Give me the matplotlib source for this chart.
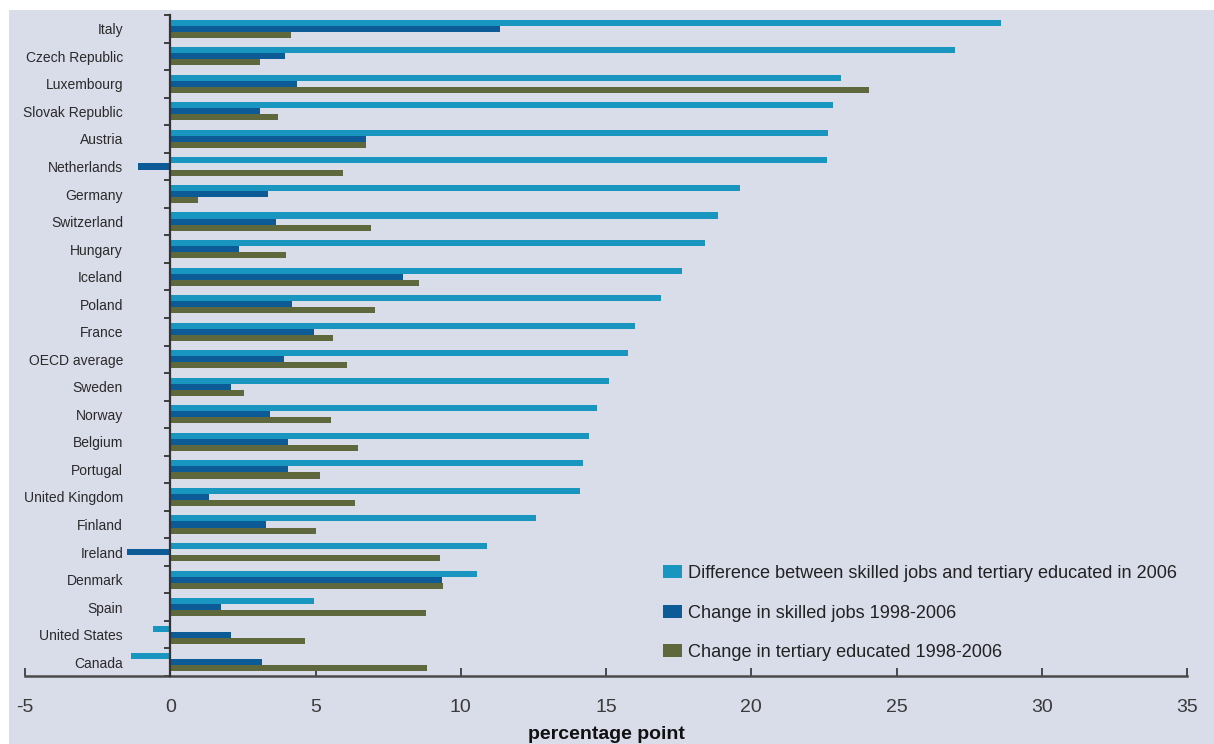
import matplotlib
matplotlib.use("Agg")
import matplotlib.pyplot as plt
from matplotlib.patches import Rectangle, Patch
import numpy as np

countries = [
    "Italy", "Czech Republic", "Luxembourg", "Slovak Republic", "Austria",
    "Netherlands", "Germany", "Switzerland", "Hungary", "Iceland", "Poland",
    "France", "OECD average", "Sweden", "Norway", "Belgium", "Portugal",
    "United Kingdom", "Finland", "Ireland", "Denmark", "Spain",
    "United States", "Canada",
]
gap_2006 = [
    28.6, 27.0, 23.1, 22.8, 22.65, 22.6, 19.6, 18.85, 18.4, 17.6, 16.9,
    16.0, 15.75, 15.1, 14.7, 14.4, 14.2, 14.1, 12.6, 10.9, 10.55, 4.95,
    -0.6, -1.35,
]
skilled_jobs_change = [
    11.35, 3.95, 4.35, 3.1, 6.75, -1.1, 3.35, 3.65, 2.35, 8.0, 4.2,
    4.95, 3.9, 2.1, 3.45, 4.05, 4.05, 1.35, 3.3, -1.5, 9.35, 1.75,
    2.1, 3.15,
]
tertiary_change = [
    4.15, 3.1, 24.05, 3.7, 6.75, 5.95, 0.95, 6.9, 4.0, 8.55, 7.05,
    5.6, 6.1, 2.55, 5.55, 6.45, 5.15, 6.35, 5.0, 9.3, 9.4, 8.8,
    4.65, 8.85,
]
series_labels = [
    "Difference between skilled jobs and tertiary educated in 2006",
    "Change in skilled jobs 1998-2006",
    "Change in tertiary educated 1998-2006",
]
x_ticks = [-5, 0, 5, 10, 15, 20, 25, 30, 35]
x_label = "percentage point"

colors = ["#1896bf", "#0c5a96", "#5e683c"]
bg = "#d9dce9"
text_col = "#2a2a2a"

plt.rcParams["font.family"] = ["Liberation Sans", "DejaVu Sans"]

W, H = 1214, 744
fig = plt.figure(figsize=(W / 100, H / 100), dpi=100, facecolor="white")
fig.patches.append(Rectangle((9 / W, 0), 1 - 9 / W, 1 - 10 / H,
                             transform=fig.transFigure, facecolor=bg,
                             edgecolor="none", zorder=-10))

ax = fig.add_axes([25 / W, 1 - 676 / H, (1187 - 25) / W, (676 - 15) / H])
ax.set_facecolor("none")

n = len(countries)
y = np.arange(n)
h = 0.22
for k, vals in enumerate([gap_2006, skilled_jobs_change, tertiary_change]):
    ax.barh(y + (k - 1) * h, vals, height=h, color=colors[k],
            edgecolor="none", zorder=2)

ax.set_xlim(-5, 35)
ax.set_ylim(n - 0.5, -0.5)

for s in ["top", "right"]:
    ax.spines[s].set_visible(False)
ax.spines["left"].set_position(("data", 0))
ax.spines["left"].set_color("#333333")
ax.spines["left"].set_linewidth(1.6)
ax.spines["left"].set_zorder(3)
ax.spines["bottom"].set_color("#4a4a4a")
ax.spines["bottom"].set_linewidth(1.8)

ax.set_yticks(y)
ax.set_yticklabels(countries, fontsize=10, color=text_col)
ax.set_yticks(np.arange(n + 1) - 0.5, minor=True)
ax.tick_params(axis="y", which="major", length=0, pad=34)
ax.tick_params(axis="y", which="minor", length=4, width=1.3,
               color="#333333", direction="out")

ax.set_xticks(x_ticks)
ax.set_xticklabels([str(t) for t in x_ticks])
ax.tick_params(axis="x", direction="in", length=6, width=1.4,
               color="#4a4a4a", labelsize=14, labelcolor="#3a3a3a", pad=16.5)
ax.set_xlabel(x_label, fontsize=14, fontweight="bold", color="#111111",
              labelpad=7)

handles = [Patch(facecolor=c, edgecolor="none") for c in colors]
fig.legend(handles, series_labels, loc="upper left",
           bbox_to_anchor=(663 / W, 1 - 565 / H), frameon=False,
           fontsize=13.1, labelcolor="#222222", borderpad=0, borderaxespad=0,
           handlelength=1.05, handleheight=0.72, handletextpad=0.3,
           labelspacing=1.24)

fig.savefig("out.png", dpi=100, facecolor="white")
